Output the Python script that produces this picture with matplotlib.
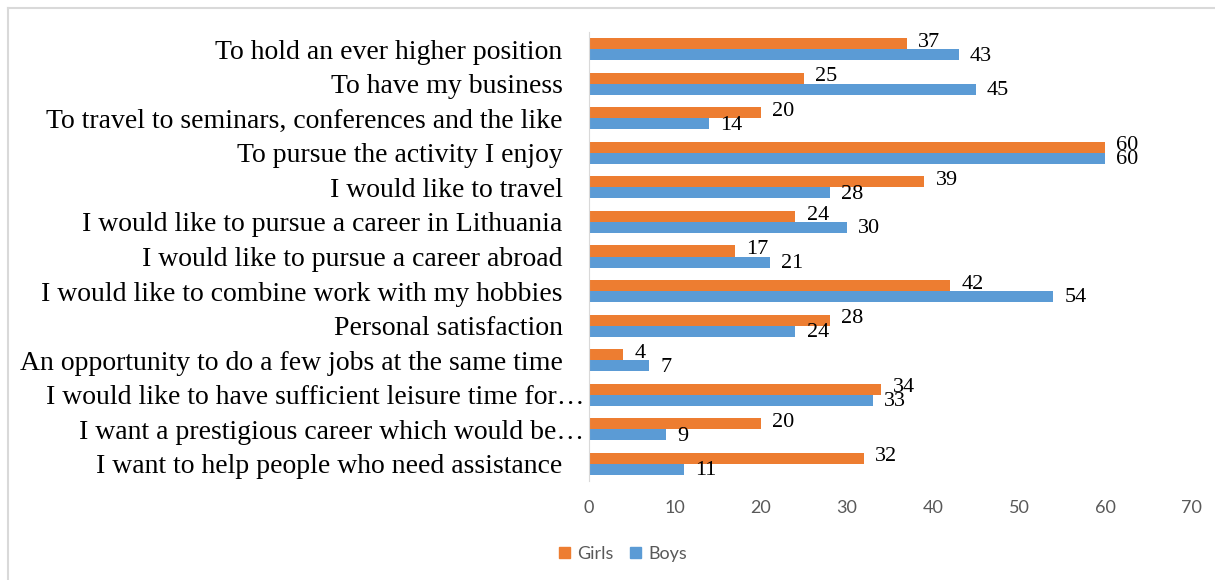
import matplotlib.pyplot as plt
import matplotlib.transforms as mtransforms
import numpy as np
from matplotlib.lines import Line2D
from matplotlib.patches import Patch

categories = [
    "To hold an ever higher position",
    "To have my business",
    "To travel to seminars, conferences and the like",
    "To pursue the activity I enjoy",
    "I would like to travel",
    "I would like to pursue a career in Lithuania",
    "I would like to pursue a career abroad",
    "I would like to combine work with my hobbies",
    "Personal satisfaction",
    "An opportunity to do a few jobs at the same time",
    "I would like to have sufficient leisure time for\u2026",
    "I want a prestigious career which would be\u2026",
    "I want to help people who need assistance",
]
girls = [37, 25, 20, 60, 39, 24, 17, 42, 28, 4, 34, 20, 32]
boys = [43, 45, 14, 60, 28, 30, 21, 54, 24, 7, 33, 9, 11]
xticks = [0, 10, 20, 30, 40, 50, 60, 70]

ORANGE = "#ED7D31"
BLUE = "#5B9BD5"
GREY = "#595959"

fig = plt.figure(figsize=(12.15, 5.8), dpi=100)
ax = fig.add_axes([589 / 1215, 1 - 481 / 580, (1191 - 589) / 1215, (481 - 32) / 580])

y = np.arange(len(categories))
h = 0.32
ax.barh(y - h / 2, girls, height=h, color=ORANGE, label="Girls")
ax.barh(y + h / 2, boys, height=h, color=BLUE, label="Boys")

# value labels just past the end of each bar
for yi, g, b in zip(y, girls, boys):
    ax.annotate(str(g), (g, yi - h / 2), xytext=(8, 1), textcoords="offset points",
                va="center", ha="left", fontsize=16, family="Liberation Serif")
    ax.annotate(str(b), (b, yi + h / 2), xytext=(8, -1), textcoords="offset points",
                va="center", ha="left", fontsize=16, family="Liberation Serif")

ax.set_ylim(len(categories) - 0.5, -0.5)
ax.set_xlim(0, 70)
ax.set_yticks(y)
ax.set_yticklabels(categories, family="Liberation Serif", fontsize=20)
ax.set_xticks(xticks)
ax.set_xticklabels([str(t) for t in xticks], family="Lato", fontsize=13, color=GREY)
ax.tick_params(axis="y", length=0, pad=19)
ax.tick_params(axis="x", length=0, pad=14)

# truncated labels run a little further right, up to the axis
shift = mtransforms.ScaledTranslation(0.22, 0, fig.dpi_scale_trans)
for lbl in ax.get_yticklabels():
    if lbl.get_text().endswith("\u2026"):
        lbl.set_transform(lbl.get_transform() + shift)

for side in ["top", "right", "bottom"]:
    ax.spines[side].set_visible(False)
ax.spines["left"].set_color("#d9d9d9")

handles = [Patch(color=ORANGE, label="Girls"), Patch(color=BLUE, label="Boys")]
fig.legend(handles=handles, loc="center", bbox_to_anchor=(623 / 1215, 1 - 554 / 580),
           ncol=2, frameon=False, handlelength=0.6, handleheight=0.6,
           handletextpad=0.4, columnspacing=0.9,
           prop={"family": "Lato", "size": 13}, labelcolor=GREY)

# light frame around the chart area
fig.add_artist(Line2D([8 / 1215, 1], [1 - 8 / 580, 1 - 8 / 580], color="#d9d9d9", lw=1.5))
fig.add_artist(Line2D([8 / 1215, 8 / 1215], [0, 1 - 8 / 580], color="#d9d9d9", lw=1.5))

fig.savefig("out.png", dpi=100)
